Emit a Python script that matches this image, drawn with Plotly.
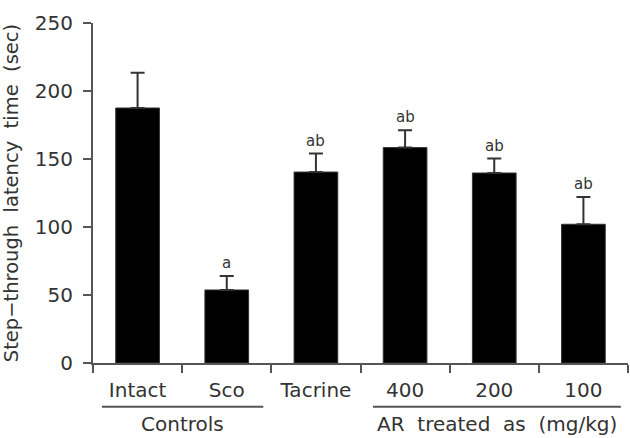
import plotly.graph_objects as go

categories = ["Intact", "Sco", "Tacrine", "400", "200", "100"]
means = [187.5, 53.7, 140.4, 158.4, 139.7, 102.0]
errors = [26.0, 10.3, 13.6, 12.7, 10.6, 20.0]
sig_labels = ["", "a", "ab", "ab", "ab", "ab"]
group_labels = ["Controls", "AR\u00a0\u00a0treated\u00a0\u00a0as\u00a0\u00a0(mg/kg)"]
y_ticks = [0, 50, 100, 150, 200, 250]

FONT = "DejaVu Sans"
TXT = "#333333"
LINE = "#555555"

fig = go.Figure(
    go.Bar(
        x=categories,
        y=means,
        width=0.49,
        marker=dict(color="black", line=dict(color="#333333", width=1)),
        error_y=dict(
            type="data",
            symmetric=False,
            array=errors,
            arrayminus=[0] * len(errors),
            color="#333333",
            thickness=2,
            width=7,
        ),
    )
)

for i, (m, e, s) in enumerate(zip(means, errors, sig_labels)):
    if s:
        fig.add_annotation(
            x=i, xref="x", y=m + e, text=s, showarrow=False, yanchor="bottom", yshift=2,
            font=dict(family=FONT, size=15, color=TXT),
        )

# group underlines and labels
fig.add_shape(type="line", xref="x", yref="paper", x0=-0.4, x1=1.41, y0=-0.129, y1=-0.129,
              line=dict(color=LINE, width=2))
fig.add_shape(type="line", xref="x", yref="paper", x0=2.64, x1=5.42, y0=-0.129, y1=-0.129,
              line=dict(color=LINE, width=2))
fig.add_annotation(x=0.5, xref="x", y=-0.18, yref="paper", text=group_labels[0], showarrow=False,
                   yanchor="middle", font=dict(family=FONT, size=20, color=TXT))
fig.add_annotation(x=4.03, xref="x", y=-0.18, yref="paper", text=group_labels[1], showarrow=False,
                   yanchor="middle", font=dict(family=FONT, size=20, color=TXT))

fig.update_layout(
    width=630, height=438,
    margin=dict(l=93, r=2, t=23, b=75),
    paper_bgcolor="white", plot_bgcolor="white",
    showlegend=False,
    font=dict(family=FONT, size=20, color=TXT),
    xaxis=dict(
        type="category", range=[-0.5, 5.5], tickson="boundaries",
        ticks="outside", ticklen=8, tickwidth=2, tickcolor=LINE,
        showline=True, linecolor=LINE, linewidth=2, showgrid=False,
        tickfont=dict(family=FONT, size=20, color=TXT), ticklabelstandoff=8,
    ),
    yaxis=dict(
        range=[0, 250], tickvals=y_ticks, ticks="outside", ticklen=8, tickwidth=2,
        tickcolor=LINE, showline=True, linecolor=LINE, linewidth=2, showgrid=False,
        zeroline=False, tickfont=dict(family=FONT, size=20, color=TXT), ticklabelstandoff=6,
        title=dict(text="Step\u2212through\u00a0\u00a0latency\u00a0\u00a0time\u00a0\u00a0(sec)",
                   font=dict(family=FONT, size=19.5, color=TXT), standoff=12),
    ),
)

fig.write_html("out.html")
